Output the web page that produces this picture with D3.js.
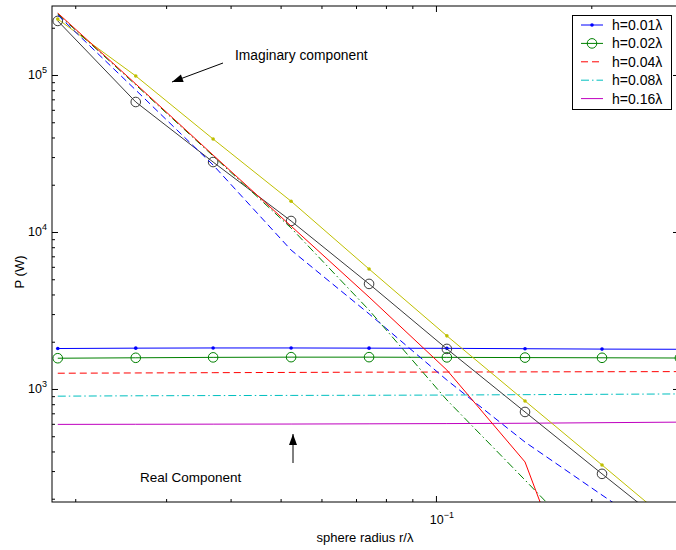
<!DOCTYPE html>
<html>
<head>
<meta charset="utf-8">
<script src="https://cdn.jsdelivr.net/npm/d3@7"></script>
<style>
  body { margin: 0; background: #fff; }
  text { font-family: "Liberation Sans", Arial, Helvetica, sans-serif; fill: #000; }
</style>
</head>
<body>
<svg id="chart" width="676" height="550"></svg>
<script>
// Sphere radius samples (r / lambda)
const radius = [0.0185, 0.0262, 0.037, 0.0524, 0.0742, 0.105, 0.1488, 0.2098, 0.297];

// Real component of P (W) for each height h
const realH001 = [1810, 1820, 1825, 1825, 1820, 1815, 1805, 1795, 1790];
const realH002 = [1570, 1580, 1590, 1595, 1595, 1590, 1585, 1580, 1575];
const realH004 = [1260, 1265, 1270, 1275, 1280, 1282, 1285, 1288, 1290];
const realH008 = [900, 905, 908, 910, 912, 915, 920, 925, 930];
const realH016 = [595, 596, 597, 598, 600, 602, 605, 610, 615];

// Imaginary component of P (W) for each height h
const imagH001 = [227000, 98600, 39100, 15700, 5810, 2180, 839, 328, 126];
const imagH002 = [221000, 67300, 27900, 11750, 4670, 1800, 714, 288, 116];
const imagH004 = [241000, 80200, 26700, 7670, 3010, 1140, 459, 211, 97];
const imagH008 = [245000, 86500, 30500, 10600, 3180, 851, 263, 81.5, 30];
const imagH016 = [248000, 87700, 30900, 10900, 3850, 1320, 343, 17, 5];

const legendLabels = ["h=0.01λ", "h=0.02λ", "h=0.04λ", "h=0.08λ", "h=0.16λ"];

const xMajorTicks = [0.1];
const xMinorTicks = [0.02, 0.03, 0.04, 0.05, 0.06, 0.07, 0.08, 0.09, 0.2];
const yMajorTicks = [1e3, 1e4, 1e5];
const yMinorTicks = [200, 300, 400, 500, 600, 700, 800, 900,
  2000, 3000, 4000, 5000, 6000, 7000, 8000, 9000,
  20000, 30000, 40000, 50000, 60000, 70000, 80000, 90000, 200000];

const xLabel = "sphere radius r/λ";
const yLabel = "P (W)";

const box = { left: 52, top: 6, right: 679, bottom: 502 };

const svg = d3.select("#chart");
const x = d3.scaleLog().domain([0.01803, 0.2958]).range([box.left, box.right]);
const y = d3.scaleLog().domain([190.6, 275100]).range([box.bottom, box.top]);

svg.append("rect").attr("x", 0).attr("y", 0).attr("width", 676).attr("height", 550).attr("fill", "#fff");

svg.append("defs").append("clipPath").attr("id", "plotClip")
  .append("rect")
  .attr("x", box.left).attr("y", box.top)
  .attr("width", box.right - box.left).attr("height", box.bottom - box.top);

// Series styling
const styles = [
  { real: realH001, imag: imagH001, realColor: "#0000ff", imagColor: "#bfbf00", dash: null, marker: "dot" },
  { real: realH002, imag: imagH002, realColor: "#008000", imagColor: "#3a3a3a", dash: null, marker: "circle" },
  { real: realH004, imag: imagH004, realColor: "#ff0000", imagColor: "#0000ff", dash: "7,4", marker: null },
  { real: realH008, imag: imagH008, realColor: "#00bfbf", imagColor: "#008000", dash: "8,3,1.5,3", marker: null },
  { real: realH016, imag: imagH016, realColor: "#bf00bf", imagColor: "#ff0000", dash: null, marker: null }
];

const line = d3.line().x(d => x(d[0])).y(d => y(d[1]));
const plotG = svg.append("g").attr("clip-path", "url(#plotClip)");

function drawSeries(values, color, dash, marker) {
  const pts = radius.map((r, i) => [r, values[i]]);
  plotG.append("path")
    .attr("d", line(pts))
    .attr("fill", "none")
    .attr("stroke", color)
    .attr("stroke-width", 1)
    .attr("stroke-dasharray", dash);
  if (marker === "dot") {
    plotG.append("g").selectAll("circle").data(pts).join("circle")
      .attr("cx", d => x(d[0])).attr("cy", d => y(d[1])).attr("r", 1.8)
      .attr("fill", color);
  } else if (marker === "circle") {
    plotG.append("g").selectAll("circle").data(pts).join("circle")
      .attr("cx", d => x(d[0])).attr("cy", d => y(d[1])).attr("r", 4.8)
      .attr("fill", "none").attr("stroke", color).attr("stroke-width", 1);
  }
}

styles.forEach(s => drawSeries(s.real, s.realColor, s.dash, s.marker));
styles.forEach(s => drawSeries(s.imag, s.imagColor, s.dash, s.marker));

// Axes: inward ticks on all four sides
function axisGroup(axis, transform) {
  const g = svg.append("g").attr("transform", transform).call(axis);
  g.select(".domain").remove();
  g.selectAll("text").remove();
  g.selectAll("line").attr("stroke", "#000").attr("stroke-width", 1);
  return g;
}
axisGroup(d3.axisBottom(x).tickValues(xMajorTicks).tickSize(-6), `translate(0,${box.bottom})`);
axisGroup(d3.axisBottom(x).tickValues(xMinorTicks).tickSize(-3), `translate(0,${box.bottom})`);
axisGroup(d3.axisTop(x).tickValues(xMajorTicks).tickSize(-6), `translate(0,${box.top})`);
axisGroup(d3.axisTop(x).tickValues(xMinorTicks).tickSize(-3), `translate(0,${box.top})`);
axisGroup(d3.axisLeft(y).tickValues(yMajorTicks).tickSize(-6), `translate(${box.left},0)`);
axisGroup(d3.axisLeft(y).tickValues(yMinorTicks).tickSize(-3), `translate(${box.left},0)`);
axisGroup(d3.axisRight(y).tickValues(yMajorTicks).tickSize(-6), `translate(${box.right},0)`);
axisGroup(d3.axisRight(y).tickValues(yMinorTicks).tickSize(-3), `translate(${box.right},0)`);

svg.append("rect")
  .attr("x", box.left).attr("y", box.top)
  .attr("width", box.right - box.left).attr("height", box.bottom - box.top)
  .attr("fill", "none").attr("stroke", "#000").attr("stroke-width", 1);

// Power-of-ten tick labels
function powerLabel(px, py, exp, anchor) {
  const t = svg.append("text").attr("x", px).attr("y", py)
    .attr("text-anchor", anchor).style("font-size", "12.5px");
  t.append("tspan").text("10");
  t.append("tspan").attr("dy", -6).style("font-size", "9px").text(exp);
}
yMajorTicks.forEach(v => powerLabel(47, y(v) + 4.5, String(Math.round(Math.log10(v))), "end"));
xMajorTicks.forEach(v => powerLabel(x(v) + 6, 523.5, String(Math.round(Math.log10(v))).replace("-", "\u2212"), "middle"));

// Axis titles
svg.append("text").attr("x", 365).attr("y", 542).attr("text-anchor", "middle")
  .style("font-size", "13px").text(xLabel);
svg.append("text").attr("transform", `translate(24,${(box.top + box.bottom) / 2 + 18}) rotate(-90)`)
  .attr("text-anchor", "middle").style("font-size", "13px").text(yLabel);

// Annotations
function arrow(x1, y1, x2, y2) {
  svg.append("line").attr("x1", x1).attr("y1", y1).attr("x2", x2).attr("y2", y2)
    .attr("stroke", "#000").attr("stroke-width", 1);
  const a = Math.atan2(y2 - y1, x2 - x1), L = 11, W = 4;
  const bx = x2 - L * Math.cos(a), by = y2 - L * Math.sin(a);
  const nx = -Math.sin(a) * W, ny = Math.cos(a) * W;
  svg.append("path")
    .attr("d", `M${x2},${y2}L${bx + nx},${by + ny}L${bx - nx},${by - ny}Z`)
    .attr("fill", "#000");
}
svg.append("text").attr("x", 235).attr("y", 60).style("font-size", "13.8px").text("Imaginary component");
arrow(223, 63, 172, 82);
svg.append("text").attr("x", 140).attr("y", 482).style("font-size", "13.5px").text("Real Component");
arrow(293, 463, 293, 434);

// Legend
const lg = svg.append("g");
lg.append("rect").attr("x", 572.5).attr("y", 15.5).attr("width", 99).attr("height", 94)
  .attr("fill", "#fff").attr("stroke", "#000").attr("stroke-width", 1);
styles.forEach((s, i) => {
  const ry = 25 + i * 18.4;
  lg.append("line").attr("x1", 581).attr("x2", 603).attr("y1", ry).attr("y2", ry)
    .attr("stroke", s.realColor).attr("stroke-width", 1).attr("stroke-dasharray", s.dash);
  if (s.marker === "dot") {
    lg.append("circle").attr("cx", 592).attr("cy", ry).attr("r", 1.8).attr("fill", s.realColor);
  } else if (s.marker === "circle") {
    lg.append("circle").attr("cx", 592).attr("cy", ry).attr("r", 4.8)
      .attr("fill", "none").attr("stroke", s.realColor);
  }
  lg.append("text").attr("x", 612).attr("y", ry + 5).style("font-size", "14px").text(legendLabels[i]);
});
</script>
</body>
</html>
